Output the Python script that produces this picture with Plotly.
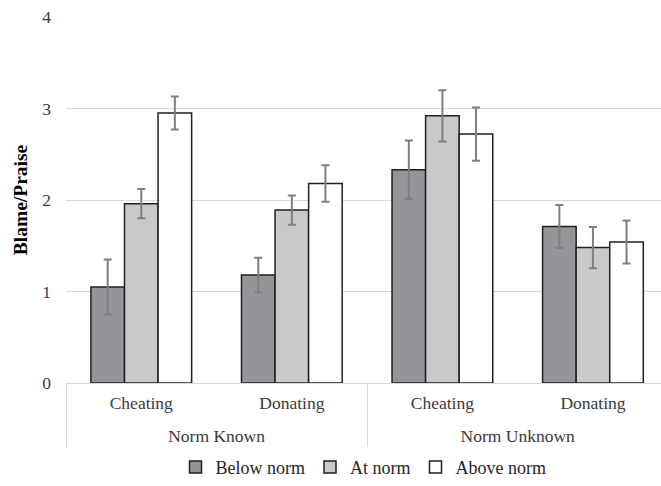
import plotly.graph_objects as go

# Grouped categories: outer = norm condition, inner = scenario
norm_condition = ["Norm Known", "Norm Known", "Norm Unknown", "Norm Unknown"]
scenario = ["Cheating", "Donating", "Cheating", "Donating"]

series_names = ["Below norm", "At norm", "Above norm"]
means = {
    "Below norm": [1.05, 1.18, 2.33, 1.71],
    "At norm": [1.96, 1.89, 2.92, 1.48],
    "Above norm": [2.95, 2.18, 2.72, 1.54],
}
errors = {
    "Below norm": [0.30, 0.19, 0.32, 0.235],
    "At norm": [0.16, 0.16, 0.28, 0.225],
    "Above norm": [0.18, 0.20, 0.29, 0.235],
}
fill_colors = {
    "Below norm": "#939598",
    "At norm": "#c8c9cb",
    "Above norm": "#ffffff",
}

y_ticks = [0, 1, 2, 3, 4]

font_family = "Liberation Serif"
text_color = "#3a3a3a"

# invisible tall spacers around the inner labels give the outer group
# labels more room below them
pad = "<span style='font-size:31px'>\u00a0</span>"
inner_labels = [pad + s + pad for s in scenario]

fig = go.Figure()
for name in series_names:
    fig.add_trace(go.Bar(
        name=name,
        x=[norm_condition, inner_labels],
        y=means[name],
        marker=dict(color=fill_colors[name], line=dict(color="#231f20", width=1.5)),
        error_y=dict(type="data", array=errors[name], color="#7f7f7f",
                     thickness=2, width=4),
    ))

fig.update_layout(
    width=661, height=486,
    margin=dict(l=66, r=0, t=17, b=103),
    barmode="group",
    bargap=0.331,
    bargroupgap=0,
    plot_bgcolor="white",
    paper_bgcolor="white",
    font=dict(family=font_family, size=17.5, color=text_color),
    showlegend=True,
    legend=dict(
        orientation="h", x=0.5, xanchor="center", y=-0.23, yanchor="middle",
        font=dict(family=font_family, size=18, color="#262626"),
        itemwidth=30, traceorder="normal", bgcolor="rgba(0,0,0,0)",
    ),
    yaxis=dict(
        range=[0, 4], tickvals=y_ticks, showgrid=True, gridcolor="#d9d9d9",
        gridwidth=1, zeroline=False, showline=False, ticks="",
        ticklabelstandoff=14,
        tickfont=dict(family=font_family, size=17.5, color=text_color),
        title=dict(text="<b>Blame/Praise</b>",
                   font=dict(family=font_family, size=19.5, color="#000000"),
                   standoff=9),
    ),
    xaxis=dict(
        type="multicategory", range=[-0.5, 3.452],
        showline=True, linecolor="#d9d9d9", linewidth=1,
        showdividers=True, dividercolor="#d9d9d9", dividerwidth=1,
        ticklabelstandoff=4,
        tickfont=dict(family=font_family, size=17.5, color=text_color),
        ticks="",
    ),
)

fig.write_html("out.html")
